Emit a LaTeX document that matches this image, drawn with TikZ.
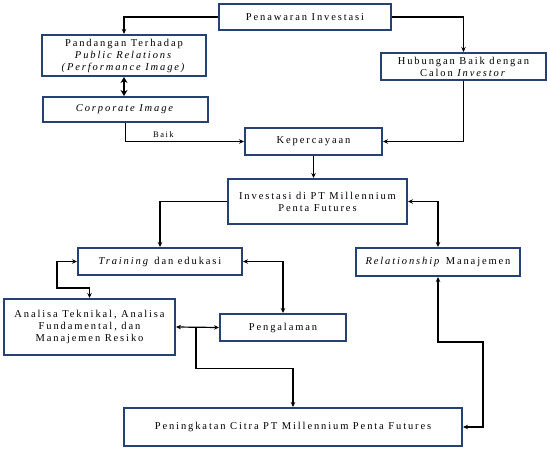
\documentclass[tikz,border=0pt]{standalone}
\usepackage{fontspec}
\setmainfont{Liberation Serif}[LetterSpace=18]
\usetikzlibrary{arrows.meta,calc}
\definecolor{boxblue}{RGB}{38,66,114}

\begin{document}
\begin{tikzpicture}[x=1pt,y=-1pt,>={Stealth[length=5pt,width=4.5pt]},font=\fontsize{10.5}{12}\selectfont]
\tikzstyle{blk}=[draw=boxblue,line width=2pt,align=center,inner sep=1pt,fill=white]
\tikzstyle{con}=[line width=1.2pt]
\useasboundingbox (0,0) rectangle (548,449);
\node[blk,minimum width=172pt,minimum height=26pt] (pen) at (305,17) {Penawaran Investasi};
\node[blk,minimum width=164pt,minimum height=41pt] (pand) at (124,55.5) {Pandangan Terhadap\\ \textit{Public Relations}\\ \textit{(Performance Image)}};
\node[blk,minimum width=165pt,minimum height=25pt] (corp) at (125.5,109.5) {\textit{Corporate Image}};
\node[blk,minimum width=165pt,minimum height=27pt] (hub) at (463.5,66.5) {Hubungan Baik dengan\\ Calon \textit{Investor}};
\node[blk,minimum width=137pt,minimum height=27pt] (kep) at (313.5,141.5) {Kepercayaan};
\node[blk,minimum width=179pt,minimum height=45pt] (inv) at (317.5,201.5) {Investasi di PT Millennium\\ Penta Futures};
\node[blk,minimum width=164pt,minimum height=27pt] (train) at (160,261.5) {\textit{Training} dan edukasi};
\node[blk,minimum width=164pt,minimum height=28pt] (rel) at (438,262) {\textit{Relationship} Manajemen};
\node[blk,minimum width=171pt,minimum height=56pt] (anal) at (89.5,327) {Analisa Teknikal, Analisa\\ Fundamental, dan\\ Manajemen Resiko};
\node[blk,minimum width=126pt,minimum height=27pt] (peng) at (283,327.5) {Pengalaman};
\node[blk,minimum width=338pt,minimum height=38pt] (cit) at (293,427) {Peningkatan Citra PT Millennium Penta Futures};
\coordinate (sp) at ($(anal.east)!0.465!(peng.west)$);
\draw[con,->] (pen.west) -| (pand.north);
\draw[con,->] (pen.east) -| (hub.north);
\draw[line width=2.2pt,{Stealth[length=6pt,width=7pt]}-{Stealth[length=6pt,width=7pt]}] (pand.south) -- (pand.south |- corp.north);
\draw[con,->] (corp.south) |- node[pos=0.66,above,font=\fontsize{8.5}{9}\selectfont]{Baik} (kep.west);
\draw[con,->] (hub.south) |- (kep.east);
\draw[con,->] (kep.south) -- (kep.south |- inv.north);
\draw[con,->] (inv.west) -| (train.north);
\draw[con,<->] (inv.east) -| (rel.north);
\draw[con,<->] (train.west) -- ++(-20,0) |- ([yshift=10pt]anal.north) -- (anal.north);
\draw[con,<->] (train.east) -| (peng.north);
\draw[con,<->] (anal.east) -- (peng.west);
\draw[con,->] (sp) -- ++(0,41) -| (cit.north);
\draw[con,<->] (rel.south) -- ++(0,65) -| ([xshift=20pt]cit.east) -- (cit.east);
\end{tikzpicture}
\end{document}
